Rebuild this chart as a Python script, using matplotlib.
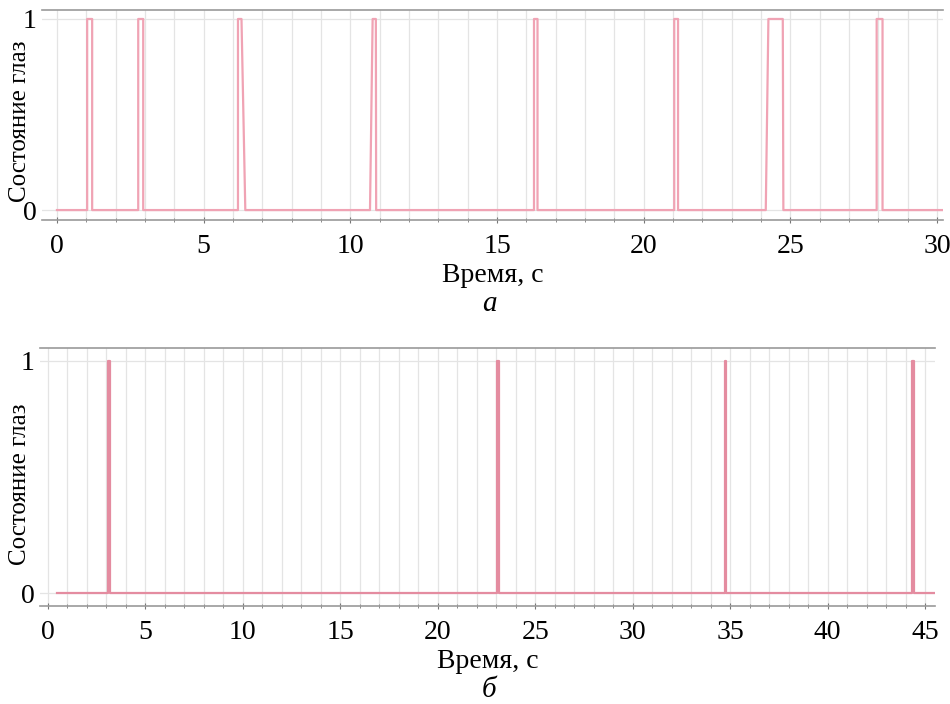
import matplotlib.pyplot as plt
from matplotlib.ticker import MultipleLocator

plt.rcParams["font.family"] = ["Liberation Serif", "DejaVu Serif"]

# eye state, recording a
time_a = [0, 1.03, 1.03, 1.2, 1.2, 2.77, 2.77, 2.94, 2.94, 6.17, 6.17, 6.29, 6.42,
          10.67, 10.76, 10.87, 10.88, 16.26, 16.26, 16.38, 16.38, 21.04, 21.04, 21.17, 21.17,
          24.16, 24.25, 24.74, 24.76, 27.94, 27.94, 28.14, 28.14, 30.2]
state_a = [0, 0, 1, 1, 0, 0, 1, 1, 0, 0, 1, 1, 0, 0, 1, 1, 0,
           0, 1, 1, 0, 0, 1, 1, 0, 0, 1, 1, 0, 0, 1, 1, 0, 0]

# eye state, recording b
time_b = [0.45, 3.1, 3.1, 3.18, 3.18, 23.03, 23.03, 23.15, 23.15,
          34.75, 34.75, 34.81, 34.81, 44.33, 44.33, 44.42, 44.42, 45.5]
state_b = [0, 0, 1, 1, 0, 0, 1, 1, 0, 0, 1, 1, 0, 0, 1, 1, 0, 0]

xlabel = "Время, с"
ylabel = "Состояние глаз"

fig = plt.figure(figsize=(9.5, 7.04), dpi=100)
ax_a = fig.add_axes([0.0442, 0.6875, 0.9484, 0.2983])
ax_b = fig.add_axes([0.042, 0.1392, 0.942, 0.3665])


def style(ax, xlim, ylim):
    ax.set_xlim(*xlim)
    ax.set_ylim(*ylim)
    for s in ["left", "right"]:
        ax.spines[s].set_visible(False)
    for s in ["top", "bottom"]:
        ax.spines[s].set_color("#9a9a9a")
        ax.spines[s].set_linewidth(1.2)
    ax.xaxis.set_major_locator(MultipleLocator(5))
    ax.xaxis.set_minor_locator(MultipleLocator(1))
    ax.set_yticks([0, 1])
    ax.grid(True, which="both", color="#e4e4e4", linewidth=0.9)
    ax.tick_params(axis="x", which="both", direction="inout", length=4,
                   color="#777777", labelsize=20, pad=8)
    ax.tick_params(axis="x", which="minor", length=3)
    ax.tick_params(axis="y", length=0, labelsize=20, pad=4)
    ax.set_xlabel(xlabel, fontsize=20, labelpad=3)
    ax.set_ylabel(ylabel, fontsize=18, va="center")
    # put the y label close to the left edge of the figure
    x_axes = (20 / 950 - ax.get_position().x0) / ax.get_position().width
    ax.yaxis.set_label_coords(x_axes, 0.47)


ax_a.plot(time_a, state_a, color="#f0a3b4", linewidth=1.6)
style(ax_a, (-0.51, 30.2), (-0.052, 1.047))
fig.text(0.515, 1 - 304 / 704, "а", ha="center", va="center", fontsize=21, style="italic")

ax_b.plot(time_b, state_b, color="#e48ca0", linewidth=1.6)
style(ax_b, (-0.41, 45.5), (-0.056, 1.056))
fig.text(0.515, 1 - 690 / 704, "б", ha="center", va="center", fontsize=21, style="italic")

fig.savefig("out.png", dpi=100)
